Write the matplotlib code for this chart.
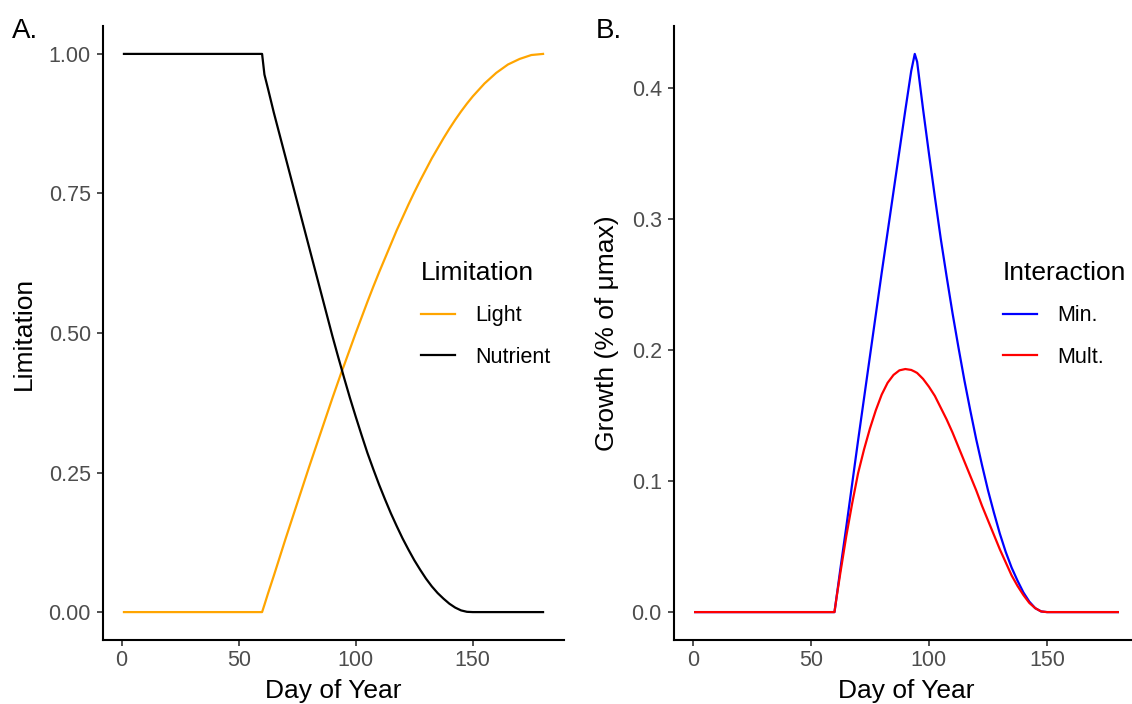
import matplotlib
matplotlib.use("Agg")
import matplotlib.pyplot as plt

plt.rcParams['font.family'] = ['Liberation Sans', 'DejaVu Sans']

# values
days = [1, 60, 61, 62.5, 65, 67.5, 70, 72.5, 75, 77.5, 80, 82.5, 85, 87.5, 90,
        92.5, 94, 95, 97.5, 100, 102.5, 105, 107.5, 110, 112.5, 115, 117.5,
        120, 122.5, 125, 127.5, 130, 132.5, 135, 137.5, 140, 142.5, 145,
        147.5, 150, 155, 160, 165, 170, 175, 180]
light = [0.0, 0.0, 0.013, 0.033, 0.065, 0.098, 0.131, 0.163, 0.195, 0.227,
         0.259, 0.290, 0.321, 0.352, 0.383, 0.413, 0.431, 0.442, 0.471, 0.500,
         0.528, 0.556, 0.583, 0.609, 0.634, 0.659, 0.684, 0.707, 0.730, 0.752,
         0.773, 0.793, 0.813, 0.831, 0.849, 0.866, 0.882, 0.897, 0.911, 0.924,
         0.947, 0.966, 0.981, 0.991, 0.998, 1.0]
nutrient = [1.0, 1.0, 0.963, 0.938, 0.895, 0.855, 0.815, 0.775, 0.735, 0.695,
            0.655, 0.615, 0.575, 0.535, 0.495, 0.457, 0.435, 0.420, 0.384,
            0.350, 0.317, 0.285, 0.256, 0.228, 0.202, 0.177, 0.154, 0.132,
            0.112, 0.093, 0.076, 0.060, 0.046, 0.034, 0.024, 0.015, 0.008,
            0.003, 0.0005, 0.0, 0.0, 0.0, 0.0, 0.0, 0.0, 0.0]
growth_min = [0.0, 0.0, 0.013, 0.033, 0.065, 0.098, 0.131, 0.163, 0.195, 0.227,
              0.259, 0.290, 0.321, 0.352, 0.383, 0.413, 0.426, 0.420, 0.384,
              0.350, 0.317, 0.285, 0.256, 0.228, 0.202, 0.177, 0.154, 0.132,
              0.112, 0.093, 0.076, 0.060, 0.046, 0.034, 0.024, 0.015, 0.008,
              0.003, 0.0005, 0.0, 0.0, 0.0, 0.0, 0.0, 0.0, 0.0]
growth_mult = [0.0, 0.0, 0.0125, 0.030, 0.058, 0.083, 0.106, 0.124, 0.140,
               0.154, 0.166, 0.175, 0.181, 0.1845, 0.1855, 0.1848, 0.1835,
               0.1825, 0.178, 0.172, 0.165, 0.156, 0.147, 0.137, 0.126, 0.115,
               0.104, 0.093, 0.081, 0.070, 0.059, 0.048, 0.038, 0.028, 0.020,
               0.013, 0.007, 0.003, 0.0005, 0.0, 0.0, 0.0, 0.0, 0.0, 0.0, 0.0]

lim_ticks = [0, 0.25, 0.5, 0.75, 1.0]
lim_labels = ["0.00", "0.25", "0.50", "0.75", "1.00"]
gr_ticks = [0, 0.1, 0.2, 0.3, 0.4]
gr_labels = ["0.0", "0.1", "0.2", "0.3", "0.4"]
day_ticks = [0, 50, 100, 150]

W, H = 1132, 704
fig = plt.figure(figsize=(W / 100, H / 100), dpi=100)


def px_box(x0, x1, y_top, y_bot):
    return [x0 / W, 1 - y_bot / H, (x1 - x0) / W, (y_bot - y_top) / H]


def style_axes(ax):
    for s in ["top", "right"]:
        ax.spines[s].set_visible(False)
    for s in ["left", "bottom"]:
        ax.spines[s].set_linewidth(1.5)
    ax.tick_params(length=4.3, width=1.2, color="#333333", labelsize=15.5,
                   labelcolor="#4D4D4D", pad=3)
    ax.tick_params(axis="y", pad=4.5)
    ax.margins(x=0.05, y=0.05)
    ax.set_xticks(day_ticks)
    ax.set_xlabel("Day of Year", fontsize=19, labelpad=6)


def add_legend(ax, x_px, y_px, title):
    leg = ax.legend(loc="upper left", bbox_to_anchor=(x_px / W, 1 - y_px / H),
                    bbox_transform=fig.transFigure, frameon=False, title=title,
                    title_fontsize=19, fontsize=15.5, handlelength=1.6,
                    handletextpad=0.9, labelspacing=0.95, borderpad=0,
                    borderaxespad=0, alignment="left")
    return leg


# Panel A
axA = fig.add_axes(px_box(103, 564, 26, 640))
axA.plot(days, light, color="orange", lw=1.6, label="Light")
axA.plot(days, nutrient, color="black", lw=1.6, label="Nutrient")
style_axes(axA)
axA.set_yticks(lim_ticks, lim_labels)
axA.set_ylabel("Limitation", fontsize=19, labelpad=9)
add_legend(axA, 421, 261, "Limitation")

# Panel B
axB = fig.add_axes(px_box(674, 1139, 26, 640))
axB.plot(days, growth_min, color="blue", lw=1.6, label="Min.")
axB.plot(days, growth_mult, color="red", lw=1.6, label="Mult.")
style_axes(axB)
axB.set_yticks(gr_ticks, gr_labels)
axB.set_ylabel("Growth (% of μmax)", fontsize=19, labelpad=9)
add_legend(axB, 1003, 261, "Interaction")

fig.text(12 / W, 1 - 38 / H, "A.", fontsize=20)
fig.text(596 / W, 1 - 38 / H, "B.", fontsize=20)

fig.savefig("out.png", dpi=100)
